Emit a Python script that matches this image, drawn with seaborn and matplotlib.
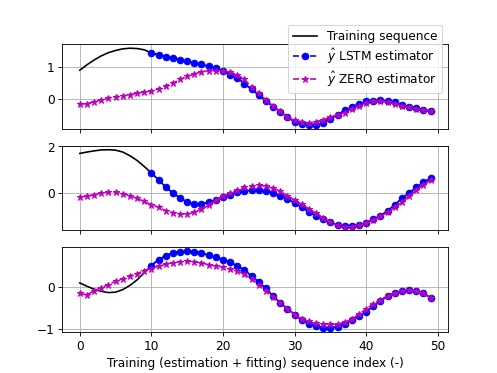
import numpy as np
import pandas as pd
import seaborn as sns
from matplotlib import pyplot as plt

# sequence index
idx = np.arange(50)
idx_est = np.arange(10, 50)

# start of the training sequence (before the estimator kicks in), one per panel
train_start_1 = [0.90, 1.07, 1.22, 1.35, 1.45, 1.52, 1.57, 1.59, 1.58, 1.54]
train_start_2 = [1.70, 1.76, 1.81, 1.85, 1.86, 1.84, 1.76, 1.60, 1.40, 1.14]
train_start_3 = [0.09, 0.01, -0.06, -0.11, -0.14, -0.13, -0.07, 0.03, 0.16, 0.33]

# LSTM estimator, index 10..49
lstm_1 = [1.44, 1.38, 1.33, 1.28, 1.23, 1.18, 1.13, 1.08, 1.02, 0.96,
          0.88, 0.76, 0.66, 0.48, 0.30, 0.12, -0.06, -0.24, -0.40, -0.57,
          -0.71, -0.79, -0.82, -0.81, -0.75, -0.63, -0.49, -0.36, -0.26, -0.16,
          -0.08, -0.05, -0.04, -0.07, -0.11, -0.18, -0.24, -0.29, -0.34, -0.38]
lstm_2 = [0.86, 0.57, 0.26, 0.00, -0.21, -0.39, -0.47, -0.47, -0.40, -0.30,
          -0.19, -0.07, 0.03, 0.09, 0.11, 0.11, 0.09, 0.00, -0.11, -0.24,
          -0.43, -0.61, -0.81, -0.97, -1.13, -1.26, -1.36, -1.41, -1.41, -1.36,
          -1.27, -1.13, -0.97, -0.76, -0.50, -0.23, 0.00, 0.24, 0.46, 0.63]
lstm_3 = [0.50, 0.64, 0.73, 0.80, 0.83, 0.84, 0.83, 0.80, 0.74, 0.70,
          0.64, 0.58, 0.49, 0.39, 0.25, 0.11, -0.04, -0.22, -0.38, -0.52,
          -0.66, -0.79, -0.88, -0.94, -0.97, -0.98, -0.95, -0.88, -0.79, -0.69,
          -0.59, -0.46, -0.34, -0.22, -0.15, -0.10, -0.09, -0.10, -0.16, -0.26]

# ZERO estimator, index 0..49
zero_1 = [-0.16, -0.15, -0.09, -0.03, 0.03, 0.07, 0.10, 0.13, 0.18, 0.21,
          0.25, 0.32, 0.40, 0.49, 0.61, 0.71, 0.78, 0.85, 0.89, 0.89,
          0.88, 0.84, 0.76, 0.61, 0.38, 0.18, -0.03, -0.22, -0.39, -0.58,
          -0.67, -0.71, -0.75, -0.71, -0.65, -0.57, -0.49, -0.44, -0.30, -0.22,
          -0.13, -0.08, -0.07, -0.11, -0.15, -0.22, -0.26, -0.30, -0.34, -0.38]
zero_2 = [-0.17, -0.14, -0.07, 0.00, 0.04, 0.04, -0.03, -0.11, -0.23, -0.36,
          -0.50, -0.61, -0.76, -0.84, -0.90, -0.90, -0.83, -0.69, -0.53, -0.31,
          -0.14, 0.00, 0.14, 0.24, 0.31, 0.33, 0.29, 0.21, 0.07, -0.11,
          -0.30, -0.49, -0.67, -0.87, -1.06, -1.24, -1.37, -1.44, -1.44, -1.39,
          -1.29, -1.16, -1.00, -0.83, -0.61, -0.39, -0.13, 0.13, 0.36, 0.54]
zero_3 = [-0.16, -0.19, -0.10, -0.02, 0.05, 0.13, 0.19, 0.25, 0.31, 0.38,
          0.43, 0.48, 0.53, 0.57, 0.59, 0.60, 0.59, 0.56, 0.52, 0.49,
          0.46, 0.42, 0.37, 0.30, 0.17, 0.05, -0.10, -0.24, -0.39, -0.53,
          -0.66, -0.77, -0.82, -0.87, -0.89, -0.89, -0.89, -0.84, -0.77, -0.65,
          -0.53, -0.41, -0.31, -0.22, -0.15, -0.10, -0.09, -0.11, -0.16, -0.26]

panels = [
    (train_start_1 + lstm_1, lstm_1, zero_1),
    (train_start_2 + lstm_2, lstm_2, zero_2),
    (train_start_3 + lstm_3, lstm_3, zero_3),
]

plt.rcParams['font.size'] = 11.2

fig, axes = plt.subplots(3, 1, sharex=True, figsize=(6.4, 4.8), dpi=77.8)

for ax, (train, lstm, zero) in zip(axes, panels):
    sns.lineplot(x=idx, y=train, ax=ax, color='k', linewidth=1.5,
                 label='Training sequence')
    sns.lineplot(x=idx_est, y=lstm, ax=ax, color='b', linestyle='--',
                 marker='o', markersize=6, markeredgecolor='b',
                 markeredgewidth=1, label=r'$\hat{y}$ LSTM estimator')
    sns.lineplot(x=idx, y=zero, ax=ax, color='m', linestyle='--',
                 marker='*', markersize=6, markeredgecolor='m',
                 markeredgewidth=1, label=r'$\hat{y}$ ZERO estimator')
    ax.grid(True)
    if ax is not axes[0]:
        ax.get_legend().remove()

axes[0].legend(loc='upper right', bbox_to_anchor=(1.0, 1.3), labelspacing=0.3)
axes[2].set_xlabel('Training (estimation + fitting) sequence index (-)')

plt.savefig('out.png', dpi=77.8)
